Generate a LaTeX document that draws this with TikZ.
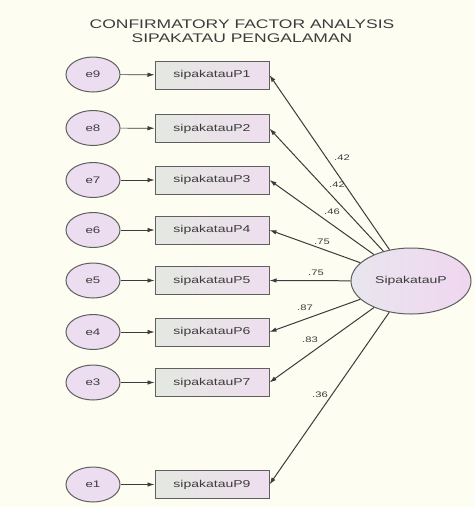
\documentclass[tikz,border=0pt]{standalone}
\usepackage{fontspec}
\setmainfont[FakeStretch=1.4]{Liberation Sans}
\usetikzlibrary{arrows.meta,shapes.geometric}
\definecolor{bg}{RGB}{253,253,242}
\definecolor{edge}{RGB}{95,95,95}
\definecolor{ink}{RGB}{60,60,60}
\definecolor{lav}{RGB}{236,222,240}
\definecolor{boxl}{RGB}{228,232,226}
\definecolor{boxr}{RGB}{238,222,238}
\definecolor{spl}{RGB}{232,230,238}
\definecolor{spr}{RGB}{240,214,240}
\tikzset{
  errnode/.style={ellipse, draw=edge, line width=1pt, fill=lav, minimum width=54pt, minimum height=35pt, inner sep=0pt, font=\fontsize{9.5}{10}\selectfont, text=ink},
  obsnode/.style={rectangle, draw=edge, line width=1pt, left color=boxl, right color=boxr, minimum width=114pt, minimum height=28pt, inner sep=0pt, font=\fontsize{10}{11}\selectfont, text=ink},
  latnode/.style={ellipse, draw=edge, line width=1pt, left color=spl, right color=spr, minimum width=120pt, minimum height=66pt, inner sep=0pt, font=\fontsize{10}{11}\selectfont, text=ink},
  errarrow/.style={draw=ink, line width=0.7pt, -{Latex[length=7pt,width=4.5pt]}},
  loadarrow/.style={draw=ink, line width=1pt, -{Latex[length=7pt,width=4.5pt]}},
  coef/.style={font=\fontsize{8}{9}\selectfont, text=ink, inner sep=0pt},
  titletext/.style={font=\fontsize{12.5}{14}\selectfont, text=ink, inner sep=0pt}
}
\begin{document}
\begin{tikzpicture}[x=1pt,y=-1pt]
\fill[bg] (0,0) rectangle (474,507);
\useasboundingbox (0,0) rectangle (474,507);

\node[titletext] (t1) at (242,24) {CONFIRMATORY FACTOR ANALYSIS};
\node[titletext] (t2) at (242,38.5) {SIPAKATAU PENGALAMAN};

\node[latnode] (SP) at (411,281) {SipakatauP};

\node[errnode] (e9) at (93,74.5) {e9};
\node[errnode] (e8) at (93,128) {e8};
\node[errnode] (e7) at (93,180) {e7};
\node[errnode] (e6) at (93,230) {e6};
\node[errnode] (e5) at (93,280.5) {e5};
\node[errnode] (e4) at (93,332) {e4};
\node[errnode] (e3) at (93,382.5) {e3};
\node[errnode] (e1) at (93,484.5) {e1};

\node[obsnode] (p1) at (212,75) {sipakatauP1};
\node[obsnode] (p2) at (212,128.5) {sipakatauP2};
\node[obsnode] (p3) at (212,180) {sipakatauP3};
\node[obsnode] (p4) at (212,230) {sipakatauP4};
\node[obsnode] (p5) at (212,280.5) {sipakatauP5};
\node[obsnode] (p6) at (212,332) {sipakatauP6};
\node[obsnode] (p7) at (212,382.5) {sipakatauP7};
\node[obsnode] (p9) at (212,484.5) {sipakatauP9};

\foreach \e/\p in {e9/p1,e8/p2,e7/p3,e6/p4,e5/p5,e4/p6,e3/p7,e1/p9}
  \draw[errarrow] (\e) -- (\p);

\foreach \p in {p1,p2,p3,p4,p5,p6,p7,p9}
  \draw[loadarrow] (SP) -- (\p.east);

\node[coef] (c1) at (342,158) {.42};
\node[coef] (c2) at (337,185) {.42};
\node[coef] (c3) at (332,212) {.46};
\node[coef] (c4) at (322,242) {.75};
\node[coef] (c5) at (316,273) {.75};
\node[coef] (c6) at (305,308) {.87};
\node[coef] (c7) at (310,340) {.83};
\node[coef] (c9) at (320,395) {.36};
\end{tikzpicture}
\end{document}
